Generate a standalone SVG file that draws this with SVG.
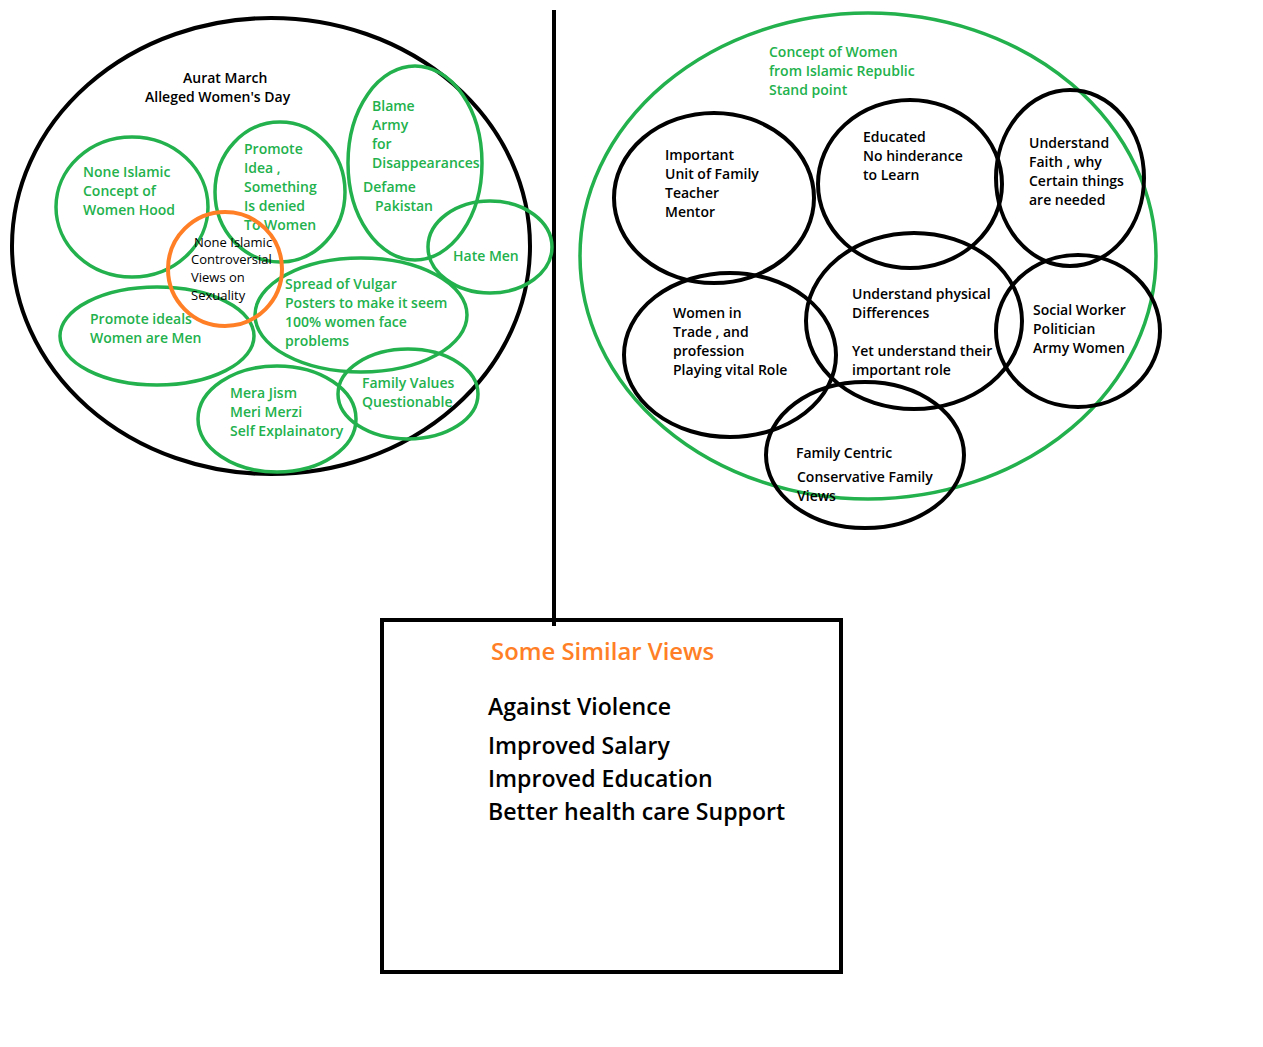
<svg xmlns="http://www.w3.org/2000/svg" width="1263" height="1047" viewBox="0 0 1263 1047">
<style>
.bg{fill:#ffffff}
.blk{fill:none;stroke:#000000;stroke-width:4}
.grn{fill:none;stroke:#22b14c;stroke-width:3.5}
.org{fill:none;stroke:#ff7f27;stroke-width:4}
text{font-family:"Open Sans","DejaVu Sans",sans-serif;font-weight:600;font-size:14px}
.g{fill:#22b14c}
.k{fill:#000000}
.s{font-size:13px;font-weight:500}
.big{font-size:23.1px}
.ttl{font-size:23.9px}
.o{fill:#ff7f27}
</style>
<rect class="bg" x="0" y="0" width="1263" height="1047"/>
<g id="connectors">
<line x1="554" y1="10" x2="554" y2="626" stroke="#000" stroke-width="4"/>
</g>
<g id="aurat-march">
<ellipse class="blk" cx="271" cy="246" rx="259" ry="228"/>
<text class="k" x="183" y="83">Aurat March</text>
<text class="k" x="145" y="102">Alleged Women's Day</text>
</g>
<g id="none-islamic-concept">
<ellipse class="grn" cx="132" cy="207" rx="76" ry="70"/>
<text class="g" x="83" y="177">None Islamic</text>
<text class="g" x="83" y="196">Concept of</text>
<text class="g" x="83" y="215">Women Hood</text>
</g>
<g id="promote-idea">
<ellipse class="grn" cx="280" cy="192" rx="65" ry="70"/>
<text class="g" x="244" y="154">Promote</text>
<text class="g" x="244" y="173">Idea ,</text>
<text class="g" x="244" y="192">Something</text>
<text class="g" x="244" y="211">Is denied</text>
<text class="g" x="244" y="230">To Women</text>
</g>
<g id="blame-army">
<ellipse class="grn" cx="415" cy="163" rx="67" ry="97"/>
<text class="g" x="372" y="111">Blame</text>
<text class="g" x="372" y="130">Army</text>
<text class="g" x="372" y="149">for</text>
<text class="g" x="372" y="168">Disappearances</text>
<text class="g" x="363" y="192">Defame</text>
<text class="g" x="375" y="211">Pakistan</text>
</g>
<g id="hate-men">
<ellipse class="grn" cx="490" cy="247" rx="62" ry="46"/>
<text class="g" x="453" y="261">Hate Men</text>
</g>
<g id="promote-ideals">
<ellipse class="grn" cx="157" cy="336" rx="97" ry="49"/>
<text class="g" x="90" y="324">Promote ideals</text>
<text class="g" x="90" y="343">Women are Men</text>
</g>
<g id="spread-vulgar">
<ellipse class="grn" cx="361" cy="315" rx="106" ry="57"/>
<text class="g" x="285" y="289">Spread of Vulgar</text>
<text class="g" x="285" y="308">Posters to make it seem</text>
<text class="g" x="285" y="327">100% women face</text>
<text class="g" x="285" y="346">problems</text>
</g>
<g id="mera-jism">
<ellipse class="grn" cx="277" cy="419" rx="79" ry="53"/>
<text class="g" x="230" y="398">Mera Jism</text>
<text class="g" x="230" y="417">Meri Merzi</text>
<text class="g" x="230" y="436">Self Explainatory</text>
</g>
<g id="family-values">
<ellipse class="grn" cx="408" cy="394" rx="70" ry="45"/>
<text class="g" x="362" y="388">Family Values</text>
<text class="g" x="362" y="407">Questionable</text>
</g>
<g id="sexuality">
<circle class="org" cx="225" cy="269" r="57"/>
<text class="k s" x="194" y="247">None Islamic</text>
<text class="k s" x="191" y="264">Controversial</text>
<text class="k s" x="191" y="282">Views on</text>
<text class="k s" x="191" y="300">Sexuality</text>
</g>
<g id="islamic-republic">
<ellipse class="grn" cx="868" cy="256" rx="288" ry="243"/>
<text class="g" x="769" y="57">Concept of Women</text>
<text class="g" x="769" y="76">from Islamic Republic</text>
<text class="g" x="769" y="95">Stand point</text>
</g>
<g id="important-unit">
<ellipse class="blk" cx="714" cy="198" rx="100" ry="85"/>
<text class="k" x="665" y="160">Important</text>
<text class="k" x="665" y="179">Unit of Family</text>
<text class="k" x="665" y="198">Teacher</text>
<text class="k" x="665" y="217">Mentor</text>
</g>
<g id="educated">
<ellipse class="blk" cx="910" cy="184" rx="92" ry="84"/>
<text class="k" x="863" y="142">Educated</text>
<text class="k" x="863" y="161">No hinderance</text>
<text class="k" x="863" y="180">to Learn</text>
</g>
<g id="understand-faith">
<ellipse class="blk" cx="1070" cy="178" rx="74" ry="88"/>
<text class="k" x="1029" y="148">Understand</text>
<text class="k" x="1029" y="167">Faith , why</text>
<text class="k" x="1029" y="186">Certain things</text>
<text class="k" x="1029" y="205">are needed</text>
</g>
<g id="physical-differences">
<ellipse class="blk" cx="914" cy="321" rx="108" ry="88"/>
<text class="k" x="852" y="299">Understand physical</text>
<text class="k" x="852" y="318">Differences</text>
<text class="k" x="852" y="356">Yet understand their</text>
<text class="k" x="852" y="375">important role</text>
</g>
<g id="women-trade">
<ellipse class="blk" cx="730" cy="355" rx="106" ry="82"/>
<text class="k" x="673" y="318">Women in</text>
<text class="k" x="673" y="337">Trade , and</text>
<text class="k" x="673" y="356">profession</text>
<text class="k" x="673" y="375">Playing vital Role</text>
</g>
<g id="social-worker">
<ellipse class="blk" cx="1078" cy="331" rx="82" ry="76"/>
<text class="k" x="1033" y="315">Social Worker</text>
<text class="k" x="1033" y="334">Politician</text>
<text class="k" x="1033" y="353">Army Women</text>
</g>
<g id="family-centric">
<ellipse class="blk" cx="865" cy="455" rx="99" ry="73"/>
<text class="k" x="796" y="458">Family Centric</text>
<text class="k" x="797" y="482">Conservative Family</text>
<text class="k" x="797" y="501">Views</text>
</g>
<g id="similar-views">
<rect class="blk" x="382" y="620" width="459" height="352"/>
<text class="o ttl" x="491" y="660">Some Similar Views</text>
<text class="k big" x="488" y="715">Against Violence</text>
<text class="k big" x="488" y="754">Improved Salary</text>
<text class="k big" x="488" y="787">Improved Education</text>
<text class="k big" x="488" y="820">Better health care Support</text>
</g>
</svg>
